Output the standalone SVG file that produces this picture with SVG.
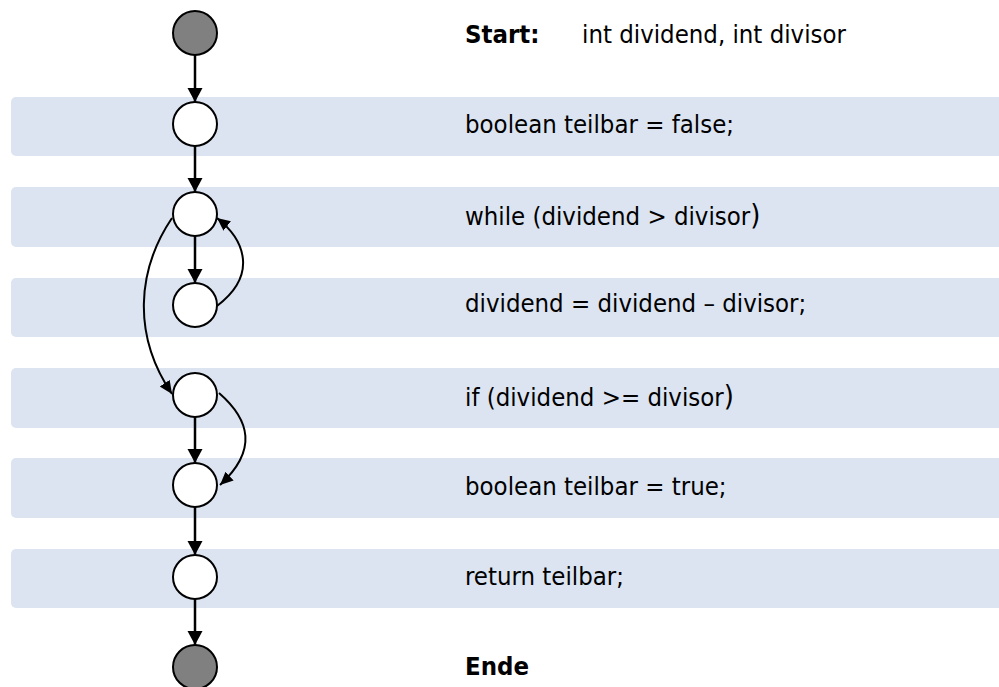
<svg xmlns="http://www.w3.org/2000/svg" width="999" height="687" viewBox="0 0 999 687">
<style>
.band{fill:#dbe4f0}
.node{fill:#ffffff;stroke:#000;stroke-width:2}
.term{fill:#808080;stroke:#000;stroke-width:2}
.lbl{font-family:"DejaVu Sans Condensed","DejaVu Sans",sans-serif;font-stretch:condensed;font-size:25.5px;fill:#000}
.b{font-weight:bold}
.edge{fill:none;stroke:#000;stroke-width:2.5}
.curve{fill:none;stroke:#000;stroke-width:2}
</style>
<defs>
<marker id="ah" markerUnits="userSpaceOnUse" markerWidth="16" markerHeight="16" refX="14" refY="7.5" orient="auto"><path d="M0,0 L14,7.5 L0,15 Z" fill="#000"/></marker>
<marker id="ahs" markerUnits="userSpaceOnUse" markerWidth="14" markerHeight="14" refX="13" refY="6" orient="auto"><path d="M0,0 L13,6 L0,12 Z" fill="#000"/></marker>
</defs>
<g id="lanes">
<rect class="band" x="11" y="97" width="1000" height="59" rx="5"/>
<rect class="band" x="11" y="187" width="1000" height="60" rx="5"/>
<rect class="band" x="11" y="278" width="1000" height="59" rx="5"/>
<rect class="band" x="11" y="368" width="1000" height="60" rx="5"/>
<rect class="band" x="11" y="458" width="1000" height="60" rx="5"/>
<rect class="band" x="11" y="549" width="1000" height="59" rx="5"/>
</g>
<g id="connectors">
<line class="edge" x1="195" y1="55" x2="195" y2="102" marker-end="url(#ah)"/>
<line class="edge" x1="195" y1="146" x2="195" y2="192" marker-end="url(#ah)"/>
<line class="edge" x1="195" y1="236" x2="195" y2="283" marker-end="url(#ah)"/>
<line class="edge" x1="195" y1="417" x2="195" y2="463" marker-end="url(#ah)"/>
<line class="edge" x1="195" y1="507" x2="195" y2="555" marker-end="url(#ah)"/>
<line class="edge" x1="195" y1="599" x2="195" y2="645" marker-end="url(#ah)"/>
<path class="curve" d="M217,306 C258,275 245,240 217,218" marker-end="url(#ahs)"/>
<path class="curve" d="M172,218 C137,270 132,335 172,394" marker-end="url(#ahs)"/>
<path class="curve" d="M219,393 C250,420 258,450 220,485" marker-end="url(#ahs)"/>
</g>
<g id="n_start"><circle class="term" cx="195" cy="33" r="22"/></g>
<g id="n1"><circle class="node" cx="195" cy="124" r="22"/></g>
<g id="n2"><circle class="node" cx="195" cy="214" r="22"/></g>
<g id="n3"><circle class="node" cx="195" cy="305" r="22"/></g>
<g id="n4"><circle class="node" cx="195" cy="395" r="22"/></g>
<g id="n5"><circle class="node" cx="195" cy="485" r="22"/></g>
<g id="n6"><circle class="node" cx="195" cy="577" r="22"/></g>
<g id="n_end"><circle class="term" cx="195" cy="667" r="22"/></g>
<g id="labels">
<text class="lbl b" x="465" y="43">Start:</text>
<text class="lbl" x="582" y="43">int dividend, int divisor</text>
<text class="lbl" x="465" y="133">boolean teilbar = false;</text>
<text class="lbl" x="465" y="225">while (dividend &gt; divisor<tspan font-size="29">)</tspan></text>
<text class="lbl" x="465" y="312">dividend = dividend – divisor;</text>
<text class="lbl" x="465" y="406">if (dividend &gt;= divisor<tspan font-size="29">)</tspan></text>
<text class="lbl" x="465" y="495">boolean teilbar = true;</text>
<text class="lbl" x="465" y="585">return teilbar;</text>
<text class="lbl b" x="465" y="675">Ende</text>
</g>
</svg>
